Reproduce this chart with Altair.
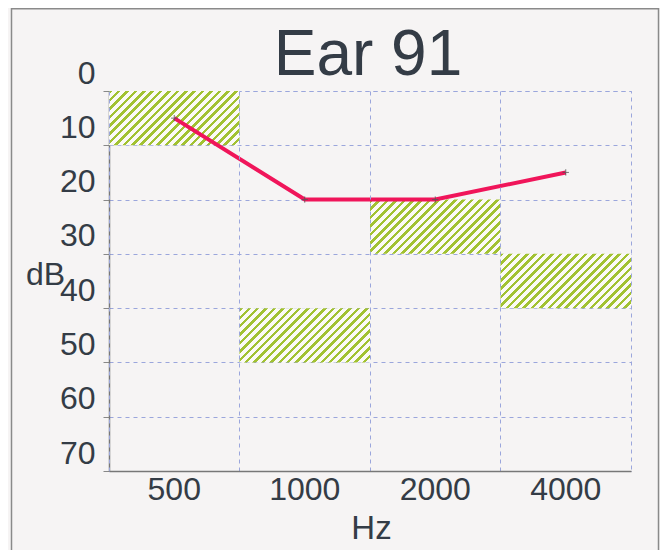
import altair as alt
import pandas as pd

# ---- data ----
freqs = ["500", "1000", "2000", "4000"]
box_lo = [0, 40, 20, 30]
box_hi = [10, 50, 30, 40]
thresholds = [5, 20, 20, 15]
y_ticks = [0, 10, 20, 30, 40, 50, 60, 70]
title_text = ["Ear 91"]

boxes = pd.DataFrame({"freq": freqs, "lo": box_lo, "hi": box_hi})
line_df = pd.DataFrame({"freq": freqs, "db": thresholds})
title_df = pd.DataFrame({"t": title_text})

# ---- layout ----
W, H = 522, 380
PAD = {"left": 101, "top": 83, "right": 29, "bottom": 79}
GRID = "#9ba6dc"
TXT = "#343c46"
FONT = "Liberation Sans"

# hatch as a striped linear gradient (45 degree stripes)
bw, bh = W / len(freqs), H / 7.0
k = (bw + bh) / (bw * bw + bh * bh)
gx2, gy2 = k * bw, k * bh
n = int(round((bw + bh) / 8.5))
f = 0.42
stops = []
for i in range(n):
    a, b, c = i / n, (i + f) / n, (i + 1) / n
    stops += [alt.GradientStop(offset=a, color="#a2c232"),
              alt.GradientStop(offset=b, color="#a2c232"),
              alt.GradientStop(offset=b, color="#fbfaf6"),
              alt.GradientStop(offset=c, color="#fbfaf6")]
hatch = alt.LinearGradient(gradient="linear", x1=0, y1=0, x2=gx2, y2=gy2, stops=stops)

xenc = alt.X("freq:N", sort=freqs, scale=alt.Scale(paddingInner=0, paddingOuter=0),
             axis=alt.Axis(title="Hz", labelAngle=0, ticks=False, grid=True, bandPosition=0,
                           gridColor=GRID, gridDash=[4, 4], gridWidth=1,
                           labelFontSize=32, labelColor=TXT, labelFont=FONT, labelPadding=3,
                           domainColor="#777777", domainWidth=1.5,
                           titleFontSize=33, titleFont=FONT, titleColor=TXT, titleFontWeight="normal",
                           titleX=W / 2 + 1, titleY=67, titleBaseline="alphabetic", titleAlign="center"))
yscale = alt.Scale(domain=[0, 70], reverse=True, nice=False)
yaxis = alt.Axis(title="dB", values=y_ticks, grid=True, gridColor=GRID, gridDash=[4, 4], gridWidth=1,
                 tickColor="#888888", tickSize=6, labelOffset=-18, labelPadding=8,
                 labelFontSize=32, labelColor=TXT, labelFont=FONT,
                 domainColor="#777777", domainWidth=1.5,
                 titleAngle=0, titleX=-64, titleY=183, titleAlign="center", titleBaseline="middle",
                 titleFontSize=32, titleFont=FONT, titleColor=TXT, titleFontWeight="normal")

rects = alt.Chart(boxes).mark_rect(fill=hatch, stroke=None).encode(
    x=xenc,
    y=alt.Y("lo:Q", scale=yscale, axis=yaxis),
    y2="hi:Q",
)

line = alt.Chart(line_df).mark_line(color="#f0155a", strokeWidth=4).encode(
    x=alt.X("freq:N", sort=freqs),
    y=alt.Y("db:Q", scale=yscale),
)

pts = alt.Chart(line_df).mark_point(shape="M-1,0L1,0M0,-1L0,1", size=40, color="#555555",
                                    strokeWidth=1, filled=False, opacity=0.8).encode(
    x=alt.X("freq:N", sort=freqs),
    y=alt.Y("db:Q", scale=yscale),
)

frame = alt.Chart(title_df).mark_rect(fill=None, stroke="#8a8a8a", strokeWidth=1.5).encode(
    x=alt.value(-PAD["left"] + 3.5), x2=alt.value(W + PAD["right"] - 1.5),
    y=alt.value(-PAD["top"] + 0.8), y2=alt.value(H + PAD["bottom"] + 20),
)

title = alt.Chart(title_df).mark_text(fontSize=64, font=FONT, color=TXT, align="center",
                                      baseline="alphabetic").encode(
    text="t:N", x=alt.value(W / 2 - 2), y=alt.value(-16),
)

chart = alt.layer(frame, rects, line, pts, title).properties(
    width=W, height=H,
    autosize=alt.AutoSizeParams(type="none"),
    padding=PAD,
    background="#f6f4f4",
).configure_view(stroke=GRID, strokeDash=[4, 4], strokeWidth=1)

chart.save("out.html", embed_options={"renderer": "svg", "actions": False})
